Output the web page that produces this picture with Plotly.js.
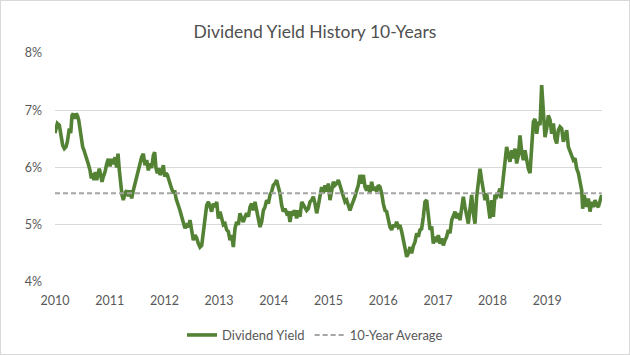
<!DOCTYPE html>
<html>
<head>
<meta charset="utf-8">
<script src="https://cdn.plot.ly/plotly-3.0.1.min.js"></script>
<style>
  html, body { margin: 0; padding: 0; background: #ffffff; }
  #wrap { position: relative; width: 630px; height: 355px; }
  #chart { width: 630px; height: 355px; }
  #frame { position: absolute; left: 0; top: 0; width: 630px; height: 355px; box-sizing: border-box; border: 1px solid #d9d9d9; pointer-events: none; }
</style>
</head>
<body>
<div id="wrap"><div id="chart"></div><div id="frame"></div></div>
<script>
// Dates as decimal years
const dates = [
  2010.000, 2010.043, 2010.079, 2010.110, 2010.140, 2010.171, 2010.201, 2010.226, 2010.244, 2010.262,
  2010.287, 2010.311, 2010.335, 2010.360, 2010.384, 2010.408, 2010.433, 2010.457, 2010.481, 2010.506,
  2010.530, 2010.554, 2010.579, 2010.609, 2010.640, 2010.664, 2010.689, 2010.713, 2010.737, 2010.762,
  2010.786, 2010.810, 2010.835, 2010.859, 2010.884, 2010.914, 2010.945, 2010.975, 2011.005, 2011.036,
  2011.067, 2011.097, 2011.127, 2011.152, 2011.176, 2011.201, 2011.225, 2011.249, 2011.280, 2011.310,
  2011.341, 2011.371, 2011.402, 2011.432, 2011.463, 2011.493, 2011.524,
  2011.554, 2011.584, 2011.615, 2011.645, 2011.676, 2011.706, 2011.737, 2011.767, 2011.798, 2011.822,
  2011.846, 2011.871, 2011.895, 2011.920, 2011.950, 2011.981, 2012.005, 2012.029, 2012.054, 2012.078,
  2012.102, 2012.133, 2012.163, 2012.188, 2012.212, 2012.236, 2012.261, 2012.285, 2012.316, 2012.346,
  2012.377, 2012.407, 2012.438, 2012.468, 2012.499, 2012.529, 2012.560, 2012.590, 2012.621, 2012.651,
  2012.682, 2012.712, 2012.743, 2012.773, 2012.804, 2012.834, 2012.864, 2012.895, 2012.925, 2012.956,
  2012.986, 2013.017, 2013.047, 2013.078, 2013.108, 2013.139, 2013.169,
  2013.199, 2013.230, 2013.260, 2013.291, 2013.321, 2013.352, 2013.382, 2013.413, 2013.443, 2013.474,
  2013.504, 2013.535, 2013.565, 2013.595, 2013.626, 2013.656, 2013.687, 2013.717, 2013.748, 2013.778,
  2013.809, 2013.839, 2013.870, 2013.900, 2013.931, 2013.961, 2013.991, 2014.022, 2014.052, 2014.083,
  2014.113, 2014.144, 2014.174, 2014.205, 2014.235, 2014.266, 2014.296, 2014.327, 2014.357, 2014.388,
  2014.418, 2014.449, 2014.479, 2014.510, 2014.540, 2014.570, 2014.601, 2014.631, 2014.662, 2014.692,
  2014.723, 2014.753, 2014.784, 2014.814,
  2014.845, 2014.875, 2014.906, 2014.936, 2014.967, 2014.997, 2015.027, 2015.058, 2015.088, 2015.119,
  2015.149, 2015.180, 2015.210, 2015.241, 2015.271, 2015.302, 2015.332, 2015.363, 2015.393, 2015.424,
  2015.454, 2015.484, 2015.515, 2015.545, 2015.576, 2015.606, 2015.637, 2015.667, 2015.698, 2015.728,
  2015.759, 2015.789, 2015.820, 2015.850, 2015.881, 2015.911, 2015.941, 2015.972, 2016.002, 2016.033,
  2016.063, 2016.094, 2016.124, 2016.155, 2016.185, 2016.216, 2016.246, 2016.277, 2016.307, 2016.338,
  2016.368, 2016.399, 2016.429, 2016.459,
  2016.490, 2016.520, 2016.551, 2016.581, 2016.612, 2016.642, 2016.673, 2016.703, 2016.734, 2016.764,
  2016.795, 2016.825, 2016.856, 2016.886, 2016.916, 2016.947, 2016.977, 2017.008, 2017.038, 2017.069,
  2017.099, 2017.130, 2017.160, 2017.191, 2017.221, 2017.252, 2017.282, 2017.313, 2017.343, 2017.373,
  2017.404, 2017.434, 2017.465, 2017.495, 2017.526, 2017.556, 2017.587, 2017.617, 2017.648, 2017.678,
  2017.709, 2017.739, 2017.770, 2017.800, 2017.830, 2017.861, 2017.891, 2017.922, 2017.952, 2017.983,
  2018.013, 2018.044, 2018.074, 2018.105,
  2018.135, 2018.154, 2018.184, 2018.209, 2018.233, 2018.257, 2018.288, 2018.318, 2018.349, 2018.379,
  2018.410, 2018.440, 2018.471, 2018.501, 2018.532, 2018.562, 2018.592, 2018.623, 2018.653, 2018.684,
  2018.714, 2018.745, 2018.775, 2018.806, 2018.836, 2018.867, 2018.897, 2018.928, 2018.958, 2018.989,
  2019.019, 2019.050, 2019.080, 2019.111, 2019.141, 2019.172, 2019.202, 2019.232, 2019.263, 2019.293,
  2019.324, 2019.354, 2019.385, 2019.415, 2019.446, 2019.476, 2019.507, 2019.537, 2019.568, 2019.598,
  2019.629, 2019.647, 2019.671, 2019.696, 2019.720, 2019.751, 2019.781, 2019.812, 2019.842, 2019.873,
  2019.903, 2019.933, 2019.964, 2019.994
];

// Dividend yield (%)
const dividendYield = [
  6.60, 6.77, 6.74, 6.53, 6.39, 6.33, 6.36, 6.45, 6.60, 6.68,
  6.60, 6.91, 6.94, 6.85, 6.94, 6.91, 6.83, 6.65, 6.48, 6.36,
  6.30, 6.24, 6.15, 6.06, 5.95, 5.81, 5.90, 5.78, 5.92, 5.78,
  5.87, 5.98, 5.87, 5.75, 5.84, 5.92, 6.06, 6.15, 6.02, 6.15,
  6.06, 6.18, 6.00, 6.24, 5.95, 5.69, 5.52, 5.43, 5.55, 5.60,
  5.50, 5.60, 5.46, 5.60, 5.72, 5.84, 5.95,
  6.07, 6.18, 6.24, 6.04, 6.13, 5.95, 6.07, 5.99, 6.21, 6.27,
  5.99, 5.90, 5.99, 5.87, 5.92, 6.04, 5.84, 5.90, 5.87, 5.78,
  5.69, 5.63, 5.55, 5.60, 5.46, 5.40, 5.31, 5.25, 5.14, 5.05,
  4.94, 4.99, 4.96, 5.08, 4.91, 4.73, 4.82, 4.77, 4.67, 4.61,
  4.64, 4.85, 5.11, 5.34, 5.40, 5.31, 5.23, 5.37, 5.31, 5.40,
  5.11, 5.23, 5.08, 5.00, 5.02, 4.91, 4.88,
  4.73, 4.82, 4.61, 4.94, 5.05, 5.00, 5.20, 5.11, 5.05, 5.14,
  5.20, 5.14, 5.31, 5.37, 5.25, 5.40, 5.25, 5.14, 4.96, 5.05,
  5.25, 5.31, 5.43, 5.37, 5.52, 5.58, 5.69, 5.72, 5.78, 5.66,
  5.55, 5.34, 5.23, 5.28, 5.20, 5.23, 5.05, 5.23, 5.20, 5.25,
  5.11, 5.25, 5.14, 5.40, 5.34, 5.31, 5.25, 5.28, 5.40, 5.43,
  5.49, 5.37, 5.20, 5.34,
  5.49, 5.66, 5.55, 5.69, 5.58, 5.72, 5.43, 5.58, 5.75, 5.69,
  5.72, 5.78, 5.69, 5.55, 5.46, 5.40, 5.43, 5.34, 5.25, 5.34,
  5.40, 5.49, 5.60, 5.69, 5.87, 5.72, 5.87, 5.66, 5.60, 5.69,
  5.55, 5.75, 5.60, 5.66, 5.58, 5.69, 5.66, 5.55, 5.37, 5.25,
  5.23, 5.08, 4.96, 4.91, 5.00, 4.96, 5.05, 4.96, 4.99, 4.88,
  4.76, 4.59, 4.44, 4.50,
  4.61, 4.50, 4.63, 4.70, 4.85, 4.79, 4.91, 4.93, 5.14, 5.40,
  5.43, 5.14, 4.91, 4.97, 4.67, 4.79, 4.70, 4.82, 4.67, 4.76,
  4.64, 4.73, 4.79, 4.91, 4.85, 5.08, 5.17, 5.23, 5.11, 5.20,
  5.08, 5.26, 5.49, 5.31, 5.14, 5.02, 5.28, 5.52, 5.20, 5.02,
  5.49, 5.81, 5.98, 5.78, 5.55, 5.43, 5.55, 5.26, 5.11, 5.43,
  5.14, 5.52, 5.49, 5.55,
  5.63, 5.46, 5.69, 5.87, 6.10, 6.36, 6.21, 6.10, 6.30, 6.16,
  6.33, 6.07, 6.21, 6.56, 6.27, 6.13, 6.30, 6.10, 5.98, 5.90,
  6.33, 6.80, 6.85, 6.59, 6.80, 6.74, 7.44, 6.91, 6.53, 6.68,
  6.91, 6.83, 6.59, 6.77, 6.51, 6.42, 6.65, 6.71, 6.68, 6.45,
  6.53, 6.65, 6.36, 6.27, 6.21, 6.13, 6.16, 5.98, 5.90, 5.75,
  5.60, 5.28, 5.52, 5.43, 5.31, 5.46, 5.23, 5.40, 5.31, 5.43,
  5.34, 5.31, 5.43, 5.52
];

const averageSpan = [2010.0, 2019.994];
const averageValue = [5.55, 5.55];

const tickYears = [2010, 2011, 2012, 2013, 2014, 2015, 2016, 2017, 2018, 2019];
const tickLabels = ['2010', '2011', '2012', '2013', '2014', '2015', '2016', '2017', '2018', '2019'];

const textColor = '#595959';
const fontFam = 'Lato, "Open Sans", sans-serif';

const traces = [
  {
    x: dates, y: dividendYield, type: 'scatter', mode: 'lines',
    name: 'Dividend Yield',
    line: { color: '#548235', width: 3.6 }
  },
  {
    x: averageSpan, y: averageValue, type: 'scatter', mode: 'lines',
    name: '10-Year Average',
    line: { color: '#a5a5a5', width: 2, dash: '5px,3px' }
  }
];

const layout = {
  width: 630, height: 355,
  margin: { l: 55, r: 28, t: 53, b: 73 },
  paper_bgcolor: '#ffffff', plot_bgcolor: '#ffffff',
  font: { family: fontFam, color: textColor, size: 12 },
  title: {
    text: 'Dividend Yield History 10-Years',
    font: { family: fontFam, size: 17.5, color: '#505050' },
    x: 0.5, xref: 'container', xanchor: 'center',
    y: 1 - 32 / 355, yref: 'container', yanchor: 'middle'
  },
  xaxis: {
    range: [2010, 2020],
    tickmode: 'array', tickvals: tickYears, ticktext: tickLabels,
    showgrid: false, zeroline: false, showline: false, ticks: '',
    tickfont: { size: 12.5, color: textColor, family: fontFam },
    ticklabelstandoff: 9,
    fixedrange: true
  },
  yaxis: {
    range: [4, 8], dtick: 1, tick0: 4,
    ticksuffix: '%',
    showgrid: true, gridcolor: '#d9d9d9', gridwidth: 1,
    zeroline: false, showline: false, ticks: '',
    tickfont: { size: 12.5, color: textColor, family: fontFam },
    ticklabelstandoff: 12,
    fixedrange: true
  },
  showlegend: true,
  legend: {
    orientation: 'h',
    x: 0.5, xref: 'container', xanchor: 'center',
    y: 1 - 335 / 355, yref: 'container', yanchor: 'middle',
    font: { size: 13, color: textColor, family: fontFam },
    itemwidth: 30,
    bgcolor: 'rgba(0,0,0,0)'
  }
};

Plotly.newPlot('chart', traces, layout, { displayModeBar: false, staticPlot: true });
</script>
</body>
</html>
